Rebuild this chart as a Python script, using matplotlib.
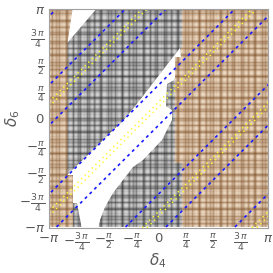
import numpy as np
import matplotlib
matplotlib.use('Agg')
import matplotlib.pyplot as plt
from matplotlib.patches import Polygon

plt.rcParams['mathtext.fontset'] = 'dejavusans'

PI = np.pi

# slopes-1 contour lines  y = x + c
blue_offsets = [-5.32, -3.34, -2.18, -0.20, 0.96, 2.94, 4.10, 6.08]
yellow_offsets = [-5.90, -2.75, 0.40, 3.55]

tick_vals = [-PI, -3 * PI / 4, -PI / 2, -PI / 4, 0, PI / 4, PI / 2, 3 * PI / 4, PI]
tick_labels = [r'$-\pi$', r'$-\frac{3\,\pi}{4}$', r'$-\frac{\pi}{2}$', r'$-\frac{\pi}{4}$', r'$0$',
               r'$\frac{\pi}{4}$', r'$\frac{\pi}{2}$', r'$\frac{3\,\pi}{4}$', r'$\pi$']

# region boundaries (data coords)
brown_left_x = [-PI, -2.467, -2.611, -2.611, -2.453, -2.453, -PI]
brown_left_y = [PI, PI, 2.171, -1.630, -1.630, -PI, -PI]
brown_right_x = [PI, 0.674, 0.674, 0.646, 0.646, 0.473, 0.473, 0.674, 0.674, PI]
brown_right_y = [PI, PI, 2.027, 2.027, 1.768, 1.768, -1.284, -1.284, -PI, -PI]
white_tl_x = [-2.50, -1.793, -2.62]
white_tl_y = [PI, PI, 2.171]
white_band_x = [-2.625, -1.965, -1.391, -1.047, -0.760, -0.531, 0.617, 0.646, 0.531, 0.445,
                0.244, 0.215, 0.387, 0.387, 0.100, -0.445, -0.732, -1.019, -1.305, -1.535,
                -1.678, -1.736, -2.195, -2.338, -2.48, -2.48]
white_band_y = [-1.630, -0.996, -0.420, -0.104, 0.242, 0.530, 2.027, 1.768, 1.336, 1.106,
                0.991, 0.357, 0.242, -0.046, -0.622, -1.198, -1.400, -1.774, -2.148, -2.551,
                -2.926, -3.20, -3.20, -2.436, -2.436, -1.658]

fig = plt.figure(figsize=(2.73, 2.73), dpi=100)
ax = fig.add_axes([49 / 273, 1 - 227.5 / 273, 219 / 273, 218.2 / 273])

# plaid textures
n = 219
p1 = np.array([1.0, 0.97, 0.82, 0.6, 0.82, 0.97, 1.0])
p2 = np.array([1.0, 0.97, 0.9, 0.97, 1.0, 0.94, 0.8, 0.66, 0.8, 0.94, 1.0])
idx = np.arange(n)
f = p1[idx % 7] * p2[idx % 11]
V = np.outer(f, f)
gray_img = np.dstack([0.12 + 0.72 * V] * 3)
dark = np.array([0.46, 0.28, 0.12])
light = np.array([0.93, 0.85, 0.76])
brown_img = dark[None, None, :] + (light - dark)[None, None, :] * V[:, :, None]

ext = [-PI, PI, -PI, PI]
ax.imshow(gray_img, extent=ext, origin='lower', interpolation='nearest', zorder=1, aspect='auto')
for xs, ys in [(white_tl_x, white_tl_y), (white_band_x, white_band_y)]:
    ax.add_patch(Polygon(np.column_stack([xs, ys]), closed=True, facecolor='white',
                         edgecolor='none', zorder=2))
for xs, ys in [(brown_left_x, brown_left_y), (brown_right_x, brown_right_y)]:
    im = ax.imshow(brown_img, extent=ext, origin='lower', interpolation='nearest', zorder=3,
                   aspect='auto')
    clip = Polygon(np.column_stack([xs, ys]), closed=True, facecolor='none', edgecolor='none',
                   transform=ax.transData)
    ax.add_patch(clip)
    im.set_clip_path(clip)

xx = np.array([-PI - 7, PI + 7])
for c in blue_offsets:
    ax.plot(xx, xx + c, color='#1a1aff', lw=1.2, dashes=(1.8, 2.2), zorder=5)
for c in yellow_offsets:
    for d in (-0.07, 0.07):
        ax.plot(xx, xx + c + d, color='#ffff30', lw=1.1, dashes=(0.9, 2.4), zorder=4)

ax.set_xlim(-PI, PI)
ax.set_ylim(-PI, PI)
ax.set_xticks(tick_vals)
ax.set_xticklabels(tick_labels)
ax.set_yticks(tick_vals)
ax.set_yticklabels(tick_labels)
ax.tick_params(length=0, pad=3, labelsize=9.5, labelcolor='#5a5a5a')
for s in ax.spines.values():
    s.set_color('#a0a0a0')
    s.set_linewidth(0.8)
    s.set_zorder(6)

fig.text(158 / 273, 1 - 261 / 273, r'$\delta_4$', ha='center', va='center', color='#5a5a5a', fontsize=11)
fig.text(13 / 273, 1 - 118 / 273, r'$\delta_6$', ha='center', va='center', color='#5a5a5a',
         fontsize=11, rotation=90)

fig.savefig('out.png', dpi=100)
